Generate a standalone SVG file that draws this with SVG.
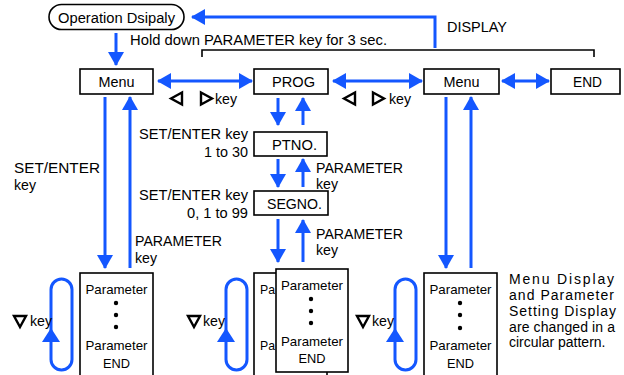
<svg xmlns="http://www.w3.org/2000/svg" width="624" height="375" viewBox="0 0 624 375">
<defs>
<style>
text{font-family:"Liberation Sans",Arial,sans-serif;fill:#000}
.t{font-size:15.5px}
.s{font-size:13.5px}
.box{fill:#fff;stroke:#000;stroke-width:1.6}
.b{fill:none;stroke:#1457ff;stroke-width:3}
.bf{fill:#1457ff}
.tri{fill:none;stroke:#000;stroke-width:2.4;stroke-linejoin:miter}
.dot{fill:#000}
</style>
<marker id="ah" viewBox="0 0 14 16" refX="13" refY="8" markerWidth="14" markerHeight="16" markerUnits="userSpaceOnUse" orient="auto-start-reverse">
<path d="M0,0 L14,8 L0,16 z" fill="#1457ff"/>
</marker>
</defs>

<g id="connectors">
<path class="b" d="M435,48 V17 H192" marker-end="url(#ah)"/>
<line class="b" x1="116" y1="33" x2="116" y2="65" marker-end="url(#ah)"/>
<line class="b" x1="158" y1="81" x2="252" y2="81" marker-start="url(#ah)" marker-end="url(#ah)"/>
<line class="b" x1="333" y1="81" x2="422" y2="81" marker-start="url(#ah)" marker-end="url(#ah)"/>
<line class="b" x1="502" y1="81" x2="549" y2="81" marker-start="url(#ah)" marker-end="url(#ah)"/>
<line class="b" x1="105" y1="97" x2="105" y2="268" marker-end="url(#ah)"/>
<line class="b" x1="130" y1="268" x2="130" y2="97" marker-end="url(#ah)"/>
<line class="b" x1="446" y1="97" x2="446" y2="268" marker-end="url(#ah)"/>
<line class="b" x1="471" y1="268" x2="471" y2="97" marker-end="url(#ah)"/>
<line class="b" x1="278" y1="98" x2="278" y2="125" marker-end="url(#ah)"/>
<line class="b" x1="303" y1="125" x2="303" y2="98" marker-end="url(#ah)"/>
<line class="b" x1="278" y1="159" x2="278" y2="187" marker-end="url(#ah)"/>
<line class="b" x1="303" y1="187" x2="303" y2="159" marker-end="url(#ah)"/>
<line class="b" x1="278" y1="219" x2="278" y2="262" marker-end="url(#ah)"/>
<line class="b" x1="303" y1="262" x2="303" y2="220" marker-end="url(#ah)"/>
<path fill="none" stroke="#000" stroke-width="1.6" d="M202,57 V50 H594 V57"/>
<rect class="b" x="51" y="279" width="21" height="91" rx="10.5"/>
<path class="bf" d="M51,328 L60,342 L42,342 z"/>
<rect class="b" x="226" y="279" width="21" height="91" rx="10.5"/>
<path class="bf" d="M226,328 L235,342 L217,342 z"/>
<rect class="b" x="395" y="279" width="21" height="91" rx="10.5"/>
<path class="bf" d="M395,328 L404,342 L386,342 z"/>
</g>

<g id="opdisp">
<rect class="box" x="49" y="4.5" width="135" height="25" rx="12.5"/>
<text class="t" x="116.5" y="22.5" text-anchor="middle" textLength="117" lengthAdjust="spacingAndGlyphs">Operation Dsipaly</text>
</g>
<g id="menu1">
<rect class="box" x="80" y="69" width="73" height="25"/>
<text class="t" x="116.5" y="87" text-anchor="middle" textLength="36" lengthAdjust="spacingAndGlyphs">Menu</text>
</g>
<g id="prog">
<rect class="box" x="254" y="69" width="74" height="25"/>
<text class="t" x="293.5" y="87" text-anchor="middle" textLength="43" lengthAdjust="spacingAndGlyphs">PROG</text>
</g>
<g id="menu2">
<rect class="box" x="424" y="69" width="75" height="25"/>
<text class="t" x="461.5" y="87" text-anchor="middle" textLength="36" lengthAdjust="spacingAndGlyphs">Menu</text>
</g>
<g id="end">
<rect class="box" x="551" y="69" width="69" height="25"/>
<text class="t" x="587.5" y="87" text-anchor="middle" textLength="29" lengthAdjust="spacingAndGlyphs">END</text>
</g>
<g id="ptno">
<rect class="box" x="254" y="132" width="73" height="24"/>
<text class="t" x="294.5" y="150" text-anchor="middle" textLength="45" lengthAdjust="spacingAndGlyphs">PTNO.</text>
</g>
<g id="segno">
<rect class="box" x="254" y="191" width="74" height="24"/>
<text class="t" x="294.5" y="209" text-anchor="middle" textLength="55" lengthAdjust="spacingAndGlyphs">SEGNO.</text>
</g>

<g id="param1">
<rect class="box" x="80" y="273" width="73" height="110"/>
<text class="s" x="116.5" y="294" text-anchor="middle" textLength="62" lengthAdjust="spacingAndGlyphs">Parameter</text>
<circle class="dot" cx="116" cy="303" r="2.2"/>
<circle class="dot" cx="116" cy="315" r="2.2"/>
<circle class="dot" cx="116" cy="327" r="2.2"/>
<text class="s" x="116.5" y="350" text-anchor="middle" textLength="62" lengthAdjust="spacingAndGlyphs">Parameter</text>
<text class="s" x="116.5" y="368" text-anchor="middle" textLength="27" lengthAdjust="spacingAndGlyphs">END</text>
</g>
<g id="param2back">
<rect class="box" x="254" y="273" width="73" height="110"/>
<text class="s" x="260" y="294" textLength="15" lengthAdjust="spacingAndGlyphs">Pa</text>
<text class="s" x="260" y="350" textLength="15" lengthAdjust="spacingAndGlyphs">Pa</text>
</g>
<g id="param2">
<rect class="box" x="276" y="269" width="72" height="103"/>
<text class="s" x="312" y="290" text-anchor="middle" textLength="62" lengthAdjust="spacingAndGlyphs">Parameter</text>
<circle class="dot" cx="311" cy="299" r="2.2"/>
<circle class="dot" cx="311" cy="311" r="2.2"/>
<circle class="dot" cx="311" cy="323" r="2.2"/>
<text class="s" x="312" y="346" text-anchor="middle" textLength="62" lengthAdjust="spacingAndGlyphs">Parameter</text>
<text class="s" x="312" y="363" text-anchor="middle" textLength="27" lengthAdjust="spacingAndGlyphs">END</text>
</g>
<g id="param3">
<rect class="box" x="424" y="273" width="73" height="110"/>
<text class="s" x="460.5" y="294" text-anchor="middle" textLength="62" lengthAdjust="spacingAndGlyphs">Parameter</text>
<circle class="dot" cx="460" cy="303" r="2.2"/>
<circle class="dot" cx="460" cy="315" r="2.2"/>
<circle class="dot" cx="460" cy="328" r="2.2"/>
<text class="s" x="460.5" y="350" text-anchor="middle" textLength="62" lengthAdjust="spacingAndGlyphs">Parameter</text>
<text class="s" x="460.5" y="368" text-anchor="middle" textLength="27" lengthAdjust="spacingAndGlyphs">END</text>
</g>

<g id="labels">
<text class="t" x="130" y="45" textLength="257" lengthAdjust="spacingAndGlyphs">Hold down PARAMETER key for 3 sec.</text>
<text class="t" x="447" y="32" textLength="60" lengthAdjust="spacingAndGlyphs">DISPLAY</text>
<path class="tri" d="M171,98.5 L182,92.5 L182,104.5 z"/>
<path class="tri" d="M201,92.5 L212,98.5 L201,104.5 z"/>
<text class="t" x="215" y="104" textLength="22" lengthAdjust="spacingAndGlyphs">key</text>
<path class="tri" d="M344,98.5 L355,92.5 L355,104.5 z"/>
<path class="tri" d="M373,92.5 L384,98.5 L373,104.5 z"/>
<text class="t" x="389" y="104" textLength="22" lengthAdjust="spacingAndGlyphs">key</text>
<text class="t" x="14" y="173" textLength="86" lengthAdjust="spacingAndGlyphs">SET/ENTER</text>
<text class="t" x="14" y="189.5" textLength="22" lengthAdjust="spacingAndGlyphs">key</text>
<text class="t" x="135" y="246" textLength="87" lengthAdjust="spacingAndGlyphs">PARAMETER</text>
<text class="t" x="135" y="262.5" textLength="22" lengthAdjust="spacingAndGlyphs">key</text>
<text class="t" x="248" y="139" text-anchor="end" textLength="109" lengthAdjust="spacingAndGlyphs">SET/ENTER key</text>
<text class="t" x="248" y="157" text-anchor="end" textLength="44" lengthAdjust="spacingAndGlyphs">1 to 30</text>
<text class="t" x="248" y="200" text-anchor="end" textLength="109" lengthAdjust="spacingAndGlyphs">SET/ENTER key</text>
<text class="t" x="248" y="218" text-anchor="end" textLength="61" lengthAdjust="spacingAndGlyphs">0, 1 to 99</text>
<text class="t" x="316" y="173" textLength="87" lengthAdjust="spacingAndGlyphs">PARAMETER</text>
<text class="t" x="316" y="189" textLength="22" lengthAdjust="spacingAndGlyphs">key</text>
<text class="t" x="316" y="239" textLength="87" lengthAdjust="spacingAndGlyphs">PARAMETER</text>
<text class="t" x="316" y="255" textLength="22" lengthAdjust="spacingAndGlyphs">key</text>
<path class="tri" d="M14,316 L26,316 L20,327 z"/>
<text class="t" x="30" y="326" textLength="22" lengthAdjust="spacingAndGlyphs">key</text>
<path class="tri" d="M188,316 L200,316 L194,327 z"/>
<text class="t" x="203" y="326" textLength="22" lengthAdjust="spacingAndGlyphs">key</text>
<path class="tri" d="M357,316 L369,316 L363,327 z"/>
<text class="t" x="372" y="326" textLength="22" lengthAdjust="spacingAndGlyphs">key</text>
<g style="font-size:14px">
<text x="509" y="284" textLength="105" lengthAdjust="spacing">Menu Display</text>
<text x="509" y="300" textLength="105" lengthAdjust="spacing">and Parameter</text>
<text x="509" y="316" textLength="107" lengthAdjust="spacing">Setting Display</text>
<text x="509" y="332" textLength="106" lengthAdjust="spacing">are changed in a</text>
<text x="509" y="347">circular pattern.</text>
</g>
</g>
</svg>
